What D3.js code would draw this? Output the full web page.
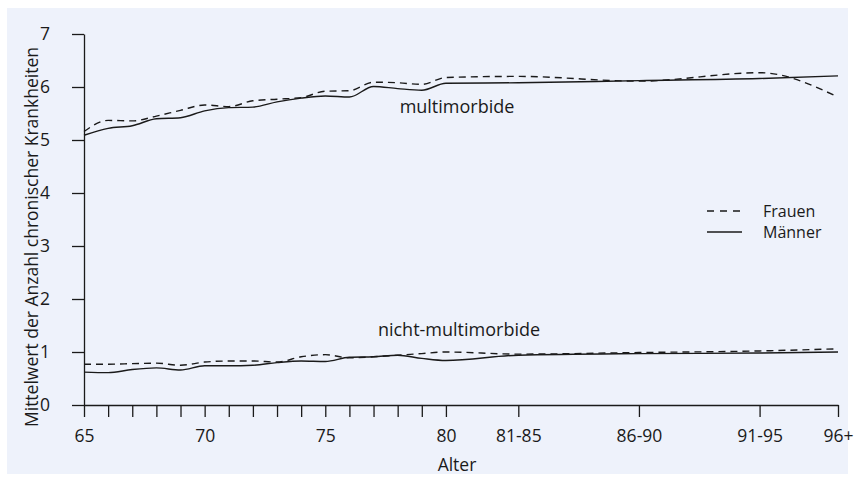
<!DOCTYPE html>
<html>
<head>
<meta charset="utf-8">
<script src="https://cdn.jsdelivr.net/npm/d3@7"></script>
<style>
  html, body { margin: 0; padding: 0; background: #ffffff; }
  svg { display: block; }
  text { font-family: "Open Sans", "Noto Sans", sans-serif; fill: #1a1a1a; }
</style>
</head>
<body>
<svg id="chart" width="856" height="484"></svg>
<script>
// ---- data ----
const ages = [65, 66, 67, 68, 69, 70, 71, 72, 73, 74, 75, 76, 77, 78, 79, 80, 83, 88, 93, 96.25];
const frauenMulti = [5.16, 5.37, 5.36, 5.45, 5.56, 5.66, 5.63, 5.74, 5.77, 5.80, 5.92, 5.93, 6.09, 6.08, 6.05, 6.18, 6.20, 6.11, 6.27, 5.81];
const maennerMulti = [5.09, 5.22, 5.27, 5.40, 5.42, 5.55, 5.61, 5.62, 5.72, 5.79, 5.83, 5.81, 6.01, 5.97, 5.94, 6.07, 6.08, 6.12, 6.16, 6.21];
const frauenNicht = [0.77, 0.77, 0.78, 0.79, 0.75, 0.81, 0.83, 0.83, 0.81, 0.91, 0.95, 0.89, 0.91, 0.94, 0.97, 1.00, 0.96, 0.99, 1.02, 1.06];
const maennerNicht = [0.62, 0.61, 0.67, 0.70, 0.66, 0.74, 0.74, 0.75, 0.80, 0.83, 0.82, 0.90, 0.91, 0.94, 0.88, 0.84, 0.94, 0.97, 0.98, 1.00];
const xTickValues = [65, 66, 67, 68, 69, 70, 71, 72, 73, 74, 75, 76, 77, 78, 79, 80, 83, 88, 93, 96.25];
const xTickLabels = {65: "65", 70: "70", 75: "75", 80: "80", 83: "81-85", 88: "86-90", 93: "91-95", 96.25: "96+"};
const yTicks = [0, 1, 2, 3, 4, 5, 6, 7];
const legendItems = [{label: "Frauen", dashed: true}, {label: "Männer", dashed: false}];
const yTitle = "Mittelwert der Anzahl chronischer Krankheiten";
const xTitle = "Alter";

// ---- drawing ----
const svg = d3.select("#chart");
svg.append("rect").attr("x", 7).attr("y", 8).attr("width", 841).attr("height", 466).attr("fill", "#eef2fb");

const x = d3.scaleLinear().domain([65, 96.25]).range([84, 838]);
const y = d3.scaleLinear().domain([0, 7]).range([405, 34]);

const ink = "#1a1a1a";
const fs = 17.5;

// y axis
const yAxis = svg.append("g").attr("transform", "translate(84,0)")
  .call(d3.axisLeft(y).tickValues(yTicks).tickFormat(d3.format("d")).tickSize(12).tickPadding(22).tickSizeOuter(0));
yAxis.select(".domain").attr("stroke", ink).attr("stroke-width", 1.3);
yAxis.selectAll(".tick line").attr("stroke", ink).attr("stroke-width", 1.3);
yAxis.selectAll(".tick text").attr("font-size", fs).attr("font-family", "'Open Sans', sans-serif").attr("fill", ink);

// x axis
const xAxis = svg.append("g").attr("transform", "translate(0,405)")
  .call(d3.axisBottom(x).tickValues(xTickValues).tickSize(12).tickPadding(13).tickSizeOuter(0)
    .tickFormat(d => xTickLabels[d] || ""));
xAxis.select(".domain").attr("stroke", ink).attr("stroke-width", 1.3);
xAxis.selectAll(".tick line").attr("stroke", ink).attr("stroke-width", 1.3);
xAxis.selectAll(".tick text").attr("font-size", fs).attr("font-family", "'Open Sans', sans-serif").attr("fill", ink);

// titles
svg.append("text").attr("transform", "translate(38,237) rotate(-90)")
  .attr("text-anchor", "middle").attr("font-size", 17.5).text(yTitle);
svg.append("text").attr("x", 457).attr("y", 471).attr("text-anchor", "middle").attr("font-size", fs).text(xTitle);

// lines
const line = d3.line().x((d, i) => x(ages[i])).y(d => y(d)).curve(d3.curveMonotoneX);
const series = [
  {vals: frauenMulti, dashed: true},
  {vals: maennerMulti, dashed: false},
  {vals: frauenNicht, dashed: true},
  {vals: maennerNicht, dashed: false}
];
svg.append("g").selectAll("path").data(series).join("path")
  .attr("d", d => line(d.vals))
  .attr("fill", "none")
  .attr("stroke", ink)
  .attr("stroke-width", 1.4)
  .attr("stroke-dasharray", d => d.dashed ? "7,5" : null);

// annotations
svg.append("text").attr("x", 457).attr("y", 113).attr("text-anchor", "middle").attr("font-size", 18).text("multimorbide");
svg.append("text").attr("x", 459).attr("y", 336).attr("text-anchor", "middle").attr("font-size", 18).text("nicht-multimorbide");

// legend
const lg = svg.append("g");
legendItems.forEach((it, i) => {
  const yy = 211 + i * 21;
  lg.append("line").attr("x1", 707).attr("x2", 742).attr("y1", yy).attr("y2", yy)
    .attr("stroke", ink).attr("stroke-width", 1.4).attr("stroke-dasharray", it.dashed ? "7,6" : null);
  lg.append("text").attr("x", 763).attr("y", yy + 5.5).attr("font-size", 16).text(it.label);
});
</script>
</body>
</html>
